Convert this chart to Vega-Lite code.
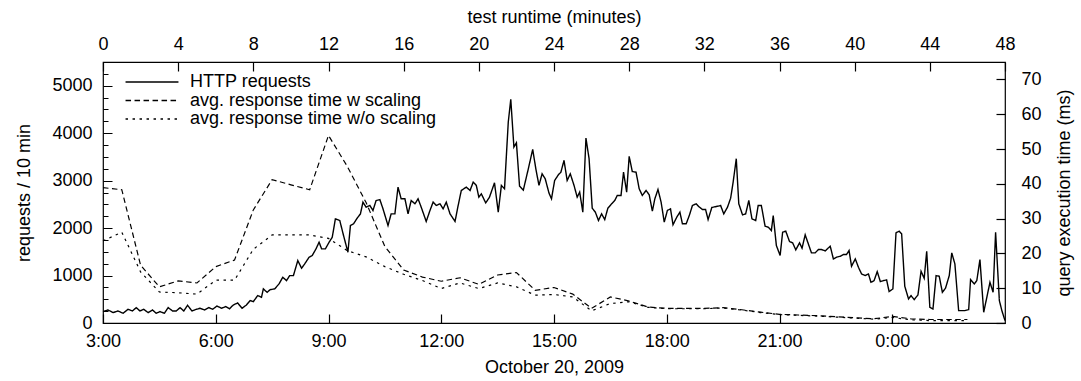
{
  "$schema": "https://vega.github.io/schema/vega-lite/v6.json",
  "width": 902,
  "height": 261,
  "autosize": {"type": "none"},
  "padding": {"left": 103, "top": 62, "right": 76, "bottom": 58},
  "config": {
    "font": "Liberation Sans",
    "view": {"stroke": "black", "strokeWidth": 1.2},
    "axis": {
      "labelFont": "Liberation Sans",
      "titleFont": "Liberation Sans",
      "labelFontSize": 18,
      "titleFontSize": 18,
      "titleFontWeight": "normal",
      "labelColor": "black",
      "titleColor": "black",
      "ticks": true,
      "tickOpacity": 1,
      "tickColor": "black",
      "tickWidth": 1.2,
      "tickSize": 9,
      "offset": -9,
      "domain": false,
      "grid": false,
      "labelOverlap": false,
      "labelFlush": false,
      "zindex": 1
    }
  },
  "datasets": {
    "http": [
      {"m":0,"v":240},{"m":8,"v":275},{"m":16,"v":219},{"m":24,"v":254},{"m":32,"v":205},{"m":40,"v":289},{"m":47,"v":254},{"m":53,"v":324},{"m":59,"v":254},{"m":65,"v":289},{"m":72,"v":219},{"m":79,"v":275},{"m":85,"v":205},{"m":91,"v":240},{"m":98,"v":205},{"m":104,"v":324},{"m":111,"v":254},{"m":117,"v":254},{"m":123,"v":324},{"m":129,"v":254},{"m":135,"v":373},{"m":142,"v":254},{"m":149,"v":289},{"m":155,"v":310},{"m":162,"v":275},{"m":169,"v":324},{"m":175,"v":289},{"m":182,"v":359},{"m":189,"v":310},{"m":196,"v":345},{"m":202,"v":300},
      {"m":208,"v":380},{"m":215,"v":422},{"m":222,"v":310},{"m":229,"v":380},{"m":235,"v":473},{"m":240,"v":450},{"m":247,"v":578},{"m":253,"v":543},{"m":256,"v":718},{"m":262,"v":647},{"m":267,"v":704},{"m":274,"v":718},{"m":281,"v":823},{"m":287,"v":964},{"m":293,"v":894},{"m":298,"v":999},{"m":304,"v":999},{"m":311,"v":1316},{"m":317,"v":1154},{"m":322,"v":1245},{"m":329,"v":1386},{"m":334,"v":1421},{"m":340,"v":1562},{"m":345,"v":1703},{"m":349,"v":1562},{"m":355,"v":1562},{"m":361,"v":1703},{"m":366,"v":1808},{"m":371,"v":2195},{"m":378,"v":2160},{"m":384,"v":1844},{"m":391,"v":1492},{"m":395,"v":2055},{"m":400,"v":2090},{"m":405,"v":2195},{"m":411,"v":2300},
      {"m":415,"v":2547},{"m":420,"v":2441},{"m":426,"v":2477},{"m":431,"v":2371},{"m":436,"v":2582},{"m":442,"v":2600},{"m":447,"v":2406},{"m":455,"v":2055},{"m":460,"v":2300},{"m":466,"v":2300},{"m":471,"v":2863},{"m":476,"v":2617},{"m":482,"v":2617},{"m":487,"v":2300},{"m":492,"v":2582},{"m":498,"v":2512},{"m":503,"v":2617},{"m":508,"v":2441},{"m":516,"v":2140},{"m":522,"v":2371},{"m":527,"v":2547},{"m":532,"v":2477},{"m":538,"v":2512},{"m":543,"v":2406},{"m":548,"v":2547},{"m":554,"v":2300},{"m":562,"v":2140},{"m":567,"v":2477},{"m":572,"v":2793},{"m":580,"v":2863},{"m":586,"v":2793},{"m":591,"v":2969},{"m":596,"v":2899},{"m":600,"v":2652},{"m":604,"v":2722},{"m":611,"v":2530},{"m":617,"v":2652},
      {"m":625,"v":2954},{"m":631,"v":2336},{"m":636,"v":2899},{"m":641,"v":2828},{"m":647,"v":4235},{"m":651,"v":4714},{"m":656,"v":3707},{"m":660,"v":3798},{"m":665,"v":2884},{"m":671,"v":2800},{"m":679,"v":3249},{"m":686,"v":3659},{"m":691,"v":3249},{"m":696,"v":2899},{"m":701,"v":3144},{"m":706,"v":3038},{"m":712,"v":2737},{"m":716,"v":2617},{"m":721,"v":3003},{"m":727,"v":3123},{"m":731,"v":3178},{"m":736,"v":3427},{"m":741,"v":3003},{"m":746,"v":3144},{"m":752,"v":2899},{"m":757,"v":2652},{"m":761,"v":2758},{"m":766,"v":2336},{"m":771,"v":3897},{"m":776,"v":3462},{"m":781,"v":2420},{"m":786,"v":2336},{"m":791,"v":2160},{"m":796,"v":2300},{"m":801,"v":2180},{"m":806,"v":2420},{"m":812,"v":2512},{"m":817,"v":2582},{"m":821,"v":2688},{"m":827,"v":2688},
      {"m":831,"v":3178},{"m":836,"v":2758},{"m":840,"v":3511},{"m":845,"v":3192},{"m":851,"v":3178},{"m":856,"v":2828},{"m":861,"v":2688},{"m":867,"v":2793},{"m":872,"v":2702},{"m":877,"v":2357},{"m":881,"v":2617},{"m":886,"v":2814},{"m":891,"v":2547},{"m":896,"v":2125},{"m":901,"v":2371},{"m":906,"v":2406},{"m":910,"v":2070},{"m":916,"v":2230},{"m":921,"v":2336},{"m":925,"v":2090},{"m":931,"v":2090},{"m":936,"v":2265},{"m":941,"v":2477},{"m":947,"v":2512},{"m":951,"v":2456},{"m":957,"v":2392},{"m":962,"v":2392},{"m":966,"v":2180},{"m":972,"v":2435},{"m":977,"v":2449},{"m":982,"v":2463},{"m":986,"v":2477},{"m":991,"v":2300},{"m":997,"v":2441},{"m":1002,"v":2631},{"m":1006,"v":2969},{"m":1011,"v":3462},{"m":1015,"v":2512},{"m":1021,"v":2279},{"m":1026,"v":2300},{"m":1031,"v":2582},{"m":1036,"v":2195},
      {"m":1042,"v":2160},{"m":1046,"v":2477},{"m":1051,"v":2477},{"m":1057,"v":2040},{"m":1062,"v":2019},{"m":1067,"v":1948},{"m":1070,"v":2265},{"m":1075,"v":1633},{"m":1081,"v":1422},{"m":1085,"v":1914},{"m":1090,"v":1935},{"m":1096,"v":1717},{"m":1101,"v":1689},{"m":1106,"v":1541},{"m":1112,"v":1689},{"m":1116,"v":1577},{"m":1121,"v":1858},{"m":1126,"v":1668},{"m":1131,"v":1478},{"m":1137,"v":1478},{"m":1142,"v":1548},{"m":1147,"v":1548},{"m":1153,"v":1520},{"m":1161,"v":1618},{"m":1166,"v":1351},{"m":1171,"v":1386},{"m":1177,"v":1407},{"m":1182,"v":1443},{"m":1187,"v":1443},{"m":1191,"v":1527},{"m":1195,"v":1196},{"m":1201,"v":1351},{"m":1206,"v":1175},{"m":1211,"v":1034},{"m":1217,"v":999},{"m":1222,"v":1034},{"m":1226,"v":858},{"m":1231,"v":893},{"m":1236,"v":1083},{"m":1241,"v":872},
      {"m":1246,"v":894},{"m":1251,"v":908},{"m":1255,"v":662},{"m":1261,"v":718},{"m":1266,"v":1899},{"m":1271,"v":1935},{"m":1275,"v":1879},{"m":1280,"v":774},{"m":1286,"v":507},{"m":1290,"v":577},{"m":1295,"v":493},{"m":1301,"v":591},{"m":1306,"v":1090},{"m":1311,"v":942},{"m":1315,"v":1513},{"m":1320,"v":331},{"m":1325,"v":296},{"m":1330,"v":999},{"m":1335,"v":985},{"m":1340,"v":647},{"m":1345,"v":732},{"m":1351,"v":999},{"m":1355,"v":1478},{"m":1360,"v":1245},{"m":1366,"v":261},{"m":1371,"v":261},{"m":1376,"v":261},{"m":1382,"v":282},{"m":1385,"v":915},{"m":1391,"v":823},{"m":1395,"v":894},{"m":1400,"v":1337},{"m":1406,"v":226},{"m":1411,"v":542},{"m":1416,"v":858},{"m":1421,"v":647},{"m":1425,"v":1913},{"m":1431,"v":472},{"m":1435,"v":261},{"m":1440,"v":50}
    ],
    "resp": [
      {"s":"avg. response time w scaling","m":0,"ms":38.9},{"s":"avg. response time w scaling","m":30,"ms":38.3},{"s":"avg. response time w scaling","m":60,"ms":16.6},{"s":"avg. response time w scaling","m":90,"ms":10.4},{"s":"avg. response time w scaling","m":120,"ms":12.1},{"s":"avg. response time w scaling","m":150,"ms":11.5},{"s":"avg. response time w scaling","m":180,"ms":16.2},{"s":"avg. response time w scaling","m":210,"ms":18.1},{"s":"avg. response time w scaling","m":240,"ms":32.5},{"s":"avg. response time w scaling","m":270,"ms":41.2},{"s":"avg. response time w scaling","m":300,"ms":39.7},{"s":"avg. response time w scaling","m":330,"ms":38.3},{"s":"avg. response time w scaling","m":360,"ms":53.9},{"s":"avg. response time w scaling","m":390,"ms":45},{"s":"avg. response time w scaling","m":420,"ms":34.6},{"s":"avg. response time w scaling","m":450,"ms":22},{"s":"avg. response time w scaling","m":480,"ms":15.2},{"s":"avg. response time w scaling","m":510,"ms":13.2},{"s":"avg. response time w scaling","m":540,"ms":12},{"s":"avg. response time w scaling","m":570,"ms":13},{"s":"avg. response time w scaling","m":600,"ms":11.1},{"s":"avg. response time w scaling","m":630,"ms":13.8},{"s":"avg. response time w scaling","m":660,"ms":14.5},{"s":"avg. response time w scaling","m":690,"ms":9.4},{"s":"avg. response time w scaling","m":720,"ms":10.2},{"s":"avg. response time w scaling","m":750,"ms":8.3},{"s":"avg. response time w scaling","m":780,"ms":4.2},{"s":"avg. response time w scaling","m":810,"ms":7.5},{"s":"avg. response time w scaling","m":840,"ms":6.3},{"s":"avg. response time w scaling","m":870,"ms":4.6},{"s":"avg. response time w scaling","m":900,"ms":4.2},{"s":"avg. response time w scaling","m":930,"ms":4.2},{"s":"avg. response time w scaling","m":960,"ms":4.2},{"s":"avg. response time w scaling","m":990,"ms":4.4},{"s":"avg. response time w scaling","m":1020,"ms":3.8},{"s":"avg. response time w scaling","m":1050,"ms":3.1},{"s":"avg. response time w scaling","m":1080,"ms":2.5},{"s":"avg. response time w scaling","m":1110,"ms":2.3},{"s":"avg. response time w scaling","m":1140,"ms":2.1},{"s":"avg. response time w scaling","m":1170,"ms":1.8},{"s":"avg. response time w scaling","m":1200,"ms":1.5},{"s":"avg. response time w scaling","m":1230,"ms":1.2},{"s":"avg. response time w scaling","m":1260,"ms":1.9},{"s":"avg. response time w scaling","m":1290,"ms":1.2},{"s":"avg. response time w scaling","m":1320,"ms":1.0},{"s":"avg. response time w scaling","m":1350,"ms":1.0},{"s":"avg. response time w scaling","m":1380,"ms":1.0},
      {"s":"avg. response time w/o scaling","m":0,"ms":23.6},{"s":"avg. response time w/o scaling","m":30,"ms":26.1},{"s":"avg. response time w/o scaling","m":60,"ms":14.7},{"s":"avg. response time w/o scaling","m":90,"ms":8.9},{"s":"avg. response time w/o scaling","m":120,"ms":8.7},{"s":"avg. response time w/o scaling","m":150,"ms":8.3},{"s":"avg. response time w/o scaling","m":180,"ms":12.3},{"s":"avg. response time w/o scaling","m":210,"ms":12.3},{"s":"avg. response time w/o scaling","m":240,"ms":21.2},{"s":"avg. response time w/o scaling","m":270,"ms":25.3},{"s":"avg. response time w/o scaling","m":300,"ms":25.3},{"s":"avg. response time w/o scaling","m":330,"ms":25.3},{"s":"avg. response time w/o scaling","m":360,"ms":24.3},{"s":"avg. response time w/o scaling","m":390,"ms":20.8},{"s":"avg. response time w/o scaling","m":420,"ms":19},{"s":"avg. response time w/o scaling","m":450,"ms":16.2},{"s":"avg. response time w/o scaling","m":480,"ms":14},{"s":"avg. response time w/o scaling","m":510,"ms":12.2},{"s":"avg. response time w/o scaling","m":540,"ms":9.9},{"s":"avg. response time w/o scaling","m":570,"ms":11.5},{"s":"avg. response time w/o scaling","m":600,"ms":9.9},{"s":"avg. response time w/o scaling","m":630,"ms":11.5},{"s":"avg. response time w/o scaling","m":660,"ms":10.4},{"s":"avg. response time w/o scaling","m":690,"ms":8},{"s":"avg. response time w/o scaling","m":720,"ms":8.2},{"s":"avg. response time w/o scaling","m":750,"ms":7.5},{"s":"avg. response time w/o scaling","m":780,"ms":3.5},{"s":"avg. response time w/o scaling","m":810,"ms":5.6},{"s":"avg. response time w/o scaling","m":840,"ms":6.1},{"s":"avg. response time w/o scaling","m":870,"ms":4.5},{"s":"avg. response time w/o scaling","m":900,"ms":4.1},{"s":"avg. response time w/o scaling","m":930,"ms":4.1},{"s":"avg. response time w/o scaling","m":960,"ms":4.1},{"s":"avg. response time w/o scaling","m":990,"ms":4.3},{"s":"avg. response time w/o scaling","m":1020,"ms":3.7},{"s":"avg. response time w/o scaling","m":1050,"ms":3.0},{"s":"avg. response time w/o scaling","m":1080,"ms":2.4},{"s":"avg. response time w/o scaling","m":1110,"ms":2.2},{"s":"avg. response time w/o scaling","m":1140,"ms":2.0},{"s":"avg. response time w/o scaling","m":1170,"ms":1.7},{"s":"avg. response time w/o scaling","m":1200,"ms":1.4},{"s":"avg. response time w/o scaling","m":1230,"ms":1.1},{"s":"avg. response time w/o scaling","m":1260,"ms":1.6},{"s":"avg. response time w/o scaling","m":1290,"ms":0.9},{"s":"avg. response time w/o scaling","m":1320,"ms":0.7},{"s":"avg. response time w/o scaling","m":1350,"ms":0.7},{"s":"avg. response time w/o scaling","m":1380,"ms":0.7}
    ]
  },
  "layer": [
    {
      "data": {"name": "http"},
      "mark": {"type": "line", "color": "black", "strokeWidth": 1.4},
      "encoding": {
        "x": {
          "field": "m", "type": "quantitative",
          "scale": {"domain": [0, 1440], "nice": false, "zero": false},
          "axis": {
            "orient": "bottom",
            "ticks": true,
            "values": [0, 180, 360, 540, 720, 900, 1080, 1260],
            "labelExpr": "((3 + datum.value / 60) % 24) + ':00'",
            "labelPadding": 9,
            "title": "October 20, 2009",
            "titlePadding": 8
          }
        },
        "y": {
          "field": "v", "type": "quantitative",
          "scale": {"domain": [0, 5500], "nice": false},
          "axis": {
            "orient": "left",
            "ticks": true,
            "values": [0, 250, 500, 750, 1000, 1250, 1500, 1750, 2000, 2250, 2500, 2750, 3000, 3250, 3500, 3750, 4000, 4250, 4500, 4750, 5000, 5250],
            "labelExpr": "datum.value % 1000 == 0 ? '' + datum.value : ''",
            "tickDash": {"condition": {"test": "datum.value % 1000 == 0", "value": [1, 0]}, "value": [0, 4, 5, 50]},
            "labelPadding": 11,
            "title": "requests / 10 min",
            "titlePadding": 18
          }
        },
        "strokeDash": {
          "datum": "HTTP requests", "type": "nominal",
          "scale": {
            "domain": ["HTTP requests", "avg. response time w scaling", "avg. response time w/o scaling"],
            "range": [[1, 0], [5.5, 3.5], [2.5, 4.5]]
          },
          "legend": {
            "orient": "none",
            "legendX": 40,
            "legendY": 11,
            "title": null,
            "symbolType": "M-5,0H5",
            "symbolSize": 112,
            "symbolStrokeWidth": 1.3,
            "symbolStrokeColor": "black",
            "symbolFillColor": "transparent",
            "labelFontSize": 18,
            "labelColor": "black",
            "labelFont": "Liberation Sans",
            "labelOffset": 29,
            "labelLimit": 500,
            "rowPadding": 0.5,
            "padding": 0
          }
        }
      }
    },
    {
      "data": {"name": "resp"},
      "mark": {"type": "line", "color": "black", "strokeWidth": 1.2},
      "encoding": {
        "x": {
          "field": "m", "type": "quantitative",
          "scale": {"domain": [0, 1440], "nice": false, "zero": false},
          "axis": null
        },
        "y": {
          "field": "ms", "type": "quantitative",
          "scale": {"domain": [0, 75], "nice": false},
          "axis": {
            "orient": "right",
            "ticks": true,
            "values": [0, 10, 20, 30, 40, 50, 60, 70],
            "labelPadding": 16,
            "title": "query execution time (ms)",
            "titleAngle": 270,
            "titlePadding": 32
          }
        },
        "strokeDash": {"field": "s", "type": "nominal", "legend": {"title": null}}
      }
    },
    {
      "data": {"values": [{"t": 0}, {"t": 48}]},
      "mark": {"type": "point", "opacity": 0},
      "encoding": {
        "x": {
          "field": "t", "type": "quantitative",
          "scale": {"domain": [0, 48], "nice": false, "zero": false},
          "axis": {
            "orient": "top",
            "ticks": true,
            "values": [0, 4, 8, 12, 16, 20, 24, 28, 32, 36, 40, 44, 48],
            "labelPadding": 9,
            "title": "test runtime (minutes)",
            "titlePadding": 9
          }
        }
      }
    }
  ],
  "resolve": {"scale": {"x": "independent", "y": "independent"}}
}
